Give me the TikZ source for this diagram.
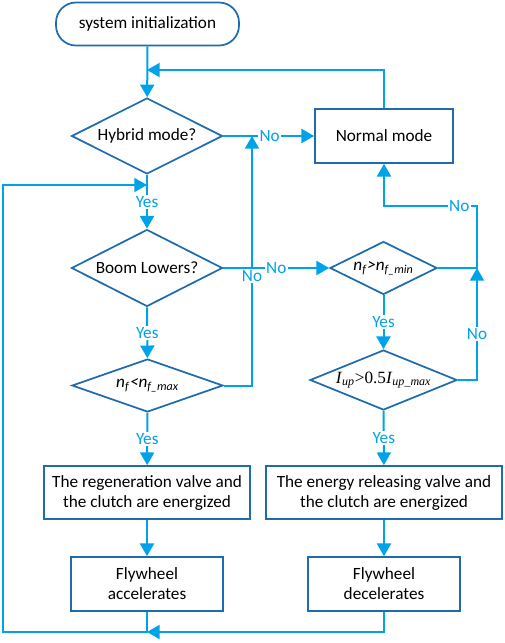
\documentclass[tikz,border=0pt]{standalone}
\usepackage{fontspec}
\setmainfont{Carlito}
\newfontfamily\timesfont{Liberation Serif}
\usetikzlibrary{shapes.geometric,arrows.meta}
\definecolor{lineblue}{RGB}{0,162,232}
\definecolor{boxblue}{RGB}{30,108,176}
\tikzset{
  flow/.style={draw=lineblue,line width=1.5pt,-{Triangle[length=9.5pt,width=10.5pt]}},
  procbox/.style={draw=boxblue,line width=1.3pt,rectangle,align=center,inner sep=2pt,
    font=\fontsize{12.9}{15}\selectfont},
  decision/.style={draw=boxblue,line width=1.3pt,diamond,aspect=2.5,inner sep=0pt,
    font=\fontsize{12.9}{15}\selectfont},
  startbox/.style={procbox,rounded corners=15pt},
  lbl/.style={fill=white,text=lineblue,inner sep=1pt,font=\fontsize{12.9}{15}\selectfont}
}
\begin{document}
\begin{tikzpicture}[x=0.75pt,y=-0.75pt]
   \useasboundingbox (0,0) rectangle (505,643);
   % nodes
   \node[startbox,minimum width=137.25pt,minimum height=32.25pt] (init) at (147.5,24) {system initialization};
   \node[decision,minimum width=113.25pt,minimum height=57pt] (hybrid) at (147,136) {Hybrid mode?};
   \node[procbox,minimum width=103.5pt,minimum height=40.5pt] (normal) at (384,136) {Normal mode};
   \node[decision,minimum width=113.25pt,minimum height=57.75pt] (boom) at (147,268) {Boom Lowers?};
   \node[decision,minimum width=80.25pt,minimum height=39.75pt] (nfmin) at (383.5,268)
      {\textit{n}\textsubscript{\textit{f}}\textit{>n}\textsubscript{\textit{f\_min}}};
   \node[decision,minimum width=113.25pt,minimum height=39.75pt] (nfmax) at (147.5,385.5)
      {\textit{n}\textsubscript{\textit{f}}\textit{<n}\textsubscript{\textit{f\_max}}};
   \node[decision,minimum width=110.25pt,minimum height=45pt] (iup) at (383.5,380)
      {\timesfont\textit{I}\textsubscript{\textit{up}}>0.5\textit{I}\textsubscript{\textit{up\_max}}};
   \node[procbox,minimum width=154.5pt,minimum height=39.75pt] (regen) at (147,492.5)
      {The regeneration valve and\\the clutch are energized};
   \node[procbox,minimum width=177pt,minimum height=39.75pt] (energy) at (384,492.5)
      {The energy releasing valve and\\the clutch are energized};
   \node[procbox,minimum width=114pt,minimum height=40.5pt] (accel) at (147,584) {Flywheel\\accelerates};
   \node[procbox,minimum width=114pt,minimum height=40.5pt] (decel) at (384,584) {Flywheel\\decelerates};
   % junction points
   \coordinate (topj) at (147,70);
   \coordinate (hybj) at (252,136);
   \coordinate (yesj) at (147,185);
   \coordinate (rj) at (477,268);
   \coordinate (rt) at (477,206);
   \coordinate (botj) at (147,632);
   \coordinate (lb) at (3,632);
   % connectors
   \draw[flow] (init) -- (hybrid);
   \draw[flow] (normal.north) |- (topj);
   \draw[flow] (hybrid.east) -- node[lbl,pos=0.51]{No} (normal.west);
   \draw[flow] (hybrid) -- node[lbl]{Yes} (boom);
   \draw[flow] (boom.east) -- node[lbl,pos=0.5]{No} (nfmin.west);
   \draw[flow] (nfmax.east) -| node[lbl,pos=0.72]{No} (hybj);
   \draw[flow] (boom) -- node[lbl]{Yes} (nfmax);
   \draw[flow] (nfmax) -- node[lbl]{Yes} (regen);
   \draw[flow] (nfmin) -- node[lbl]{Yes} (iup);
   \draw[flow] (iup) -- node[lbl]{Yes} (energy);
   \draw[flow] (iup.east) -| node[lbl,pos=0.705]{No} (rj);
   \draw[flow] (nfmin.east) -- (rj) -- (rt) -- node[lbl,pos=0.19]{No} (normal.south |- rt) -- (normal.south);
   \draw[flow] (regen) -- (accel);
   \draw[flow] (energy) -- (decel);
   \draw[flow] (decel.south) |- (botj);
   \draw[flow] (accel.south) |- (lb) |- (yesj);
\end{tikzpicture}
\end{document}
